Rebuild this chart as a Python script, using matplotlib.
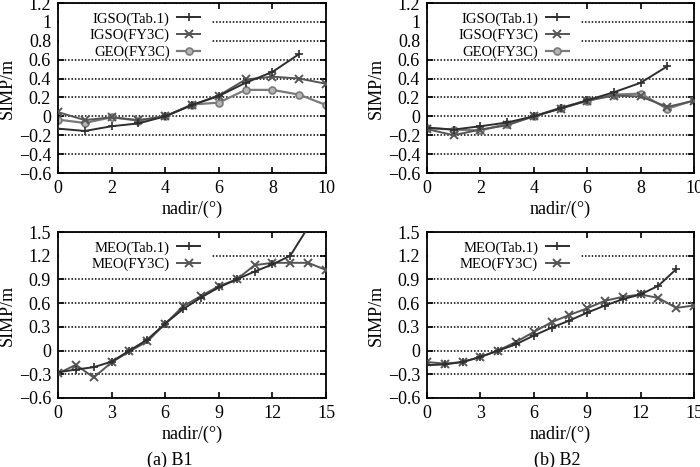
import matplotlib
matplotlib.use("Agg")
import matplotlib.pyplot as plt
from matplotlib.patches import Rectangle

plt.rcParams['font.family'] = ['Liberation Serif', 'DejaVu Serif']
plt.rcParams['axes.unicode_minus'] = True

# ---- data ----
nadir10 = [0, 1, 2, 3, 4, 5, 6, 7, 8, 9, 10]
nadir15 = [0, 1, 2, 3, 4, 5, 6, 7, 8, 9, 10, 11, 12, 13, 14, 15]

b1_igso_tab = [-0.13, -0.155, -0.105, -0.075, 0.0, 0.12, 0.215, 0.355, 0.47, 0.66]
b1_igso_fy3c = [0.045, -0.04, -0.01, -0.04, 0.0, 0.12, 0.22, 0.39, 0.42, 0.40, 0.345]
b1_geo_fy3c = [-0.035, -0.07, -0.01, -0.045, 0.0, 0.125, 0.145, 0.28, 0.28, 0.23, 0.12]

b2_igso_tab = [-0.12, -0.14, -0.105, -0.065, 0.0, 0.085, 0.17, 0.255, 0.355, 0.53]
b2_igso_fy3c = [-0.135, -0.2, -0.14, -0.095, 0.0, 0.08, 0.165, 0.22, 0.21, 0.10, 0.165]
b2_geo_fy3c = [-0.125, -0.14, -0.15, -0.08, 0.0, 0.09, 0.165, 0.23, 0.24, 0.08, 0.17]

b1_meo_tab = [-0.275, -0.24, -0.21, -0.14, 0.0, 0.14, 0.34, 0.525, 0.67, 0.80, 0.90, 1.0, 1.09, 1.2, 1.56]
b1_meo_fy3c = [-0.29, -0.18, -0.34, -0.15, -0.01, 0.115, 0.34, 0.56, 0.69, 0.815, 0.90, 1.08, 1.11, 1.11, 1.11, 1.02]

b2_meo_tab = [-0.185, -0.175, -0.145, -0.08, 0.0, 0.08, 0.19, 0.29, 0.38, 0.48, 0.57, 0.65, 0.71, 0.82, 1.03]
b2_meo_fy3c = [-0.145, -0.165, -0.145, -0.08, 0.0, 0.11, 0.235, 0.36, 0.45, 0.535, 0.63, 0.68, 0.71, 0.665, 0.54, 0.57]

top_yticks = [-0.6, -0.4, -0.2, 0, 0.2, 0.4, 0.6, 0.8, 1, 1.2]
top_ylabels = ['\u22120.6', '\u22120.4', '\u22120.2', '0', '0.2', '0.4', '0.6', '0.8', '1', '1.2']
top_xticks = [0, 2, 4, 6, 8, 10]
bot_yticks = [-0.6, -0.3, 0, 0.3, 0.6, 0.9, 1.2, 1.5]
bot_ylabels = ['\u22120.6', '\u22120.3', '0', '0.3', '0.6', '0.9', '1.2', '1.5']
bot_xticks = [0, 3, 6, 9, 12, 15]

lbl_tab = 'IGSO(Tab.1)'
lbl_igso = 'IGSO(FY3C)'
lbl_geo = 'GEO(FY3C)'
lbl_meo_tab = 'MEO(Tab.1)'
lbl_meo_fy = 'MEO(FY3C)'
captions = ['(a) B1', '(b) B2']

# ---- styles ----
c_tab = '#2e2e2e'
c_fy = '#555555'
c_geo = '#7a7a7a'
st_tab = dict(color=c_tab, lw=1.4, marker='+', ms=6, mew=1.2)
st_fy = dict(color=c_fy, lw=1.4, marker='x', ms=5.5, mew=1.4)
st_geo = dict(color=c_geo, lw=1.6, marker='o', ms=5, mew=1.2, mfc='#b5b5b5', mec=c_geo)

fig = plt.figure(figsize=(7, 4.67), dpi=100)
W, H = 700, 467
def axes_px(l, r, t, b):
    return fig.add_axes([l / W, 1 - b / H, (r - l) / W, (b - t) / H])

axs = [axes_px(58, 326, 3, 173), axes_px(427, 694, 3, 173),
       axes_px(58, 326, 232, 398), axes_px(427, 694, 232, 398)]

FS = 13
LFS = 10.5

def style(ax, xlim, xticks, ylim, yticks, ylabels, mask_w, mask_h):
    ax.set_xlim(*xlim)
    ax.set_ylim(*ylim)
    ax.set_xticks(xticks)
    ax.set_xticklabels([str(v) for v in xticks])
    ax.set_yticks(yticks)
    ax.set_yticklabels(ylabels)
    ax.tick_params(direction='in', top=True, right=True, length=4, width=1.2,
                   labelsize=FS, pad=5)
    for s in ax.spines.values():
        s.set_linewidth(1.3)
    ax.grid(axis='y', linestyle=(0, (1, 1.2)), color='black', lw=1.1, zorder=0)
    ax.set_axisbelow(True)
    ax.add_patch(Rectangle((0.004, 1 - mask_h), mask_w, mask_h - 0.006,
                           transform=ax.transAxes, facecolor='white',
                           edgecolor='none', zorder=1.5))
    ax.set_xlabel('nadir/(\u00b0)', fontsize=FS, labelpad=3)
    ax.set_ylabel('SIMP/m', fontsize=FS, labelpad=2)

def add_legend(ax):
    leg = ax.legend(loc='upper right', bbox_to_anchor=(0.575, 1.015), frameon=False,
                    markerfirst=False, fontsize=LFS, handlelength=1.6,
                    handletextpad=0.5, labelspacing=0.22, borderpad=0.3)
    leg.set_zorder(5)

# top panels
for ax, tab, fy, geo in [(axs[0], b1_igso_tab, b1_igso_fy3c, b1_geo_fy3c),
                         (axs[1], b2_igso_tab, b2_igso_fy3c, b2_geo_fy3c)]:
    ax.plot(nadir10[:len(tab)], tab, label=lbl_tab, zorder=4, **st_tab)
    ax.plot(nadir10, fy, label=lbl_igso, zorder=3, **st_fy)
    ax.plot(nadir10, geo, label=lbl_geo, zorder=2.5, **st_geo)
    style(ax, (0, 10), top_xticks, (-0.6, 1.2), top_yticks, top_ylabels, 0.57, 0.33)
    add_legend(ax)

# bottom panels
for ax, tab, fy in [(axs[2], b1_meo_tab, b1_meo_fy3c),
                    (axs[3], b2_meo_tab, b2_meo_fy3c)]:
    ax.plot(nadir15[:len(tab)], tab, label=lbl_meo_tab, zorder=4, **st_tab)
    ax.plot(nadir15, fy, label=lbl_meo_fy, zorder=3, **st_fy)
    style(ax, (0, 15), bot_xticks, (-0.6, 1.5), bot_yticks, bot_ylabels, 0.57, 0.2)
    add_legend(ax)

fig.text(170 / W, 1 - 460 / H, captions[0], ha='center', va='center', fontsize=FS)
fig.text(557 / W, 1 - 460 / H, captions[1], ha='center', va='center', fontsize=FS)

fig.savefig('out.png', dpi=100)
